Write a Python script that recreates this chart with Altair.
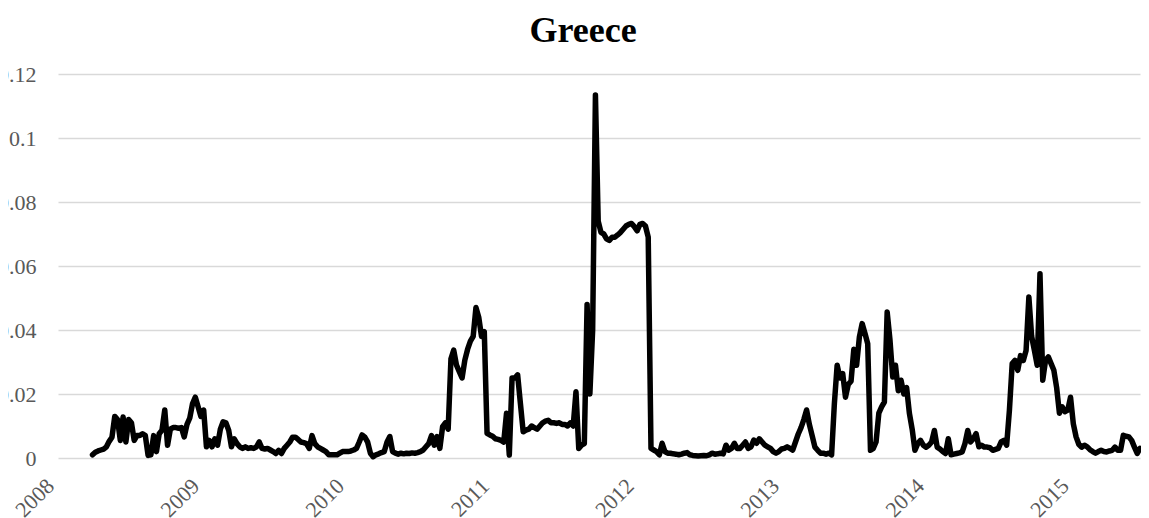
import altair as alt
import pandas as pd

title_text = "Greece"
start_date = "2008-03-28"
year_ticks = [2008, 2009, 2010, 2011, 2012, 2013, 2014, 2015]
y_ticks = [0, 0.02, 0.04, 0.06, 0.08, 0.1, 0.12]

values = [
    0.001, 0.0018, 0.0022, 0.0025, 0.0028, 0.0035, 0.0052, 0.0065, 0.013, 0.012,
    0.0055, 0.0128, 0.005, 0.012, 0.011, 0.0055, 0.007, 0.007, 0.0076, 0.007,
    0.0008, 0.001, 0.007, 0.002, 0.0076, 0.0087, 0.015, 0.004, 0.009, 0.0095,
    0.0095, 0.0093, 0.0095, 0.0066, 0.0105, 0.0125, 0.017, 0.019, 0.016, 0.013,
    0.015, 0.0035, 0.0055, 0.0035, 0.006, 0.004, 0.009, 0.0113, 0.011, 0.0087,
    0.0035, 0.006, 0.0045, 0.0035, 0.003, 0.0035, 0.003, 0.0032, 0.003, 0.0035,
    0.005, 0.003, 0.0028, 0.003, 0.0025, 0.002, 0.0014, 0.0024, 0.0014, 0.003,
    0.004, 0.005, 0.0065, 0.0065, 0.0058, 0.005, 0.0048, 0.0045, 0.003, 0.007,
    0.0045, 0.0035, 0.003, 0.0025, 0.002, 0.001, 0.001, 0.001, 0.001, 0.0015,
    0.002, 0.002, 0.002, 0.0022, 0.0025, 0.003, 0.005, 0.0072, 0.0065, 0.005,
    0.0015, 0.0004, 0.001, 0.0013, 0.0017, 0.002, 0.005, 0.0067, 0.002, 0.0015,
    0.0012, 0.0015, 0.0013, 0.0015, 0.0014, 0.0016, 0.0015, 0.0017, 0.002, 0.0025,
    0.0035, 0.0045, 0.007, 0.004, 0.0067, 0.003, 0.0098, 0.011, 0.009, 0.031,
    0.0337, 0.029, 0.027, 0.025, 0.0306, 0.034, 0.0365, 0.038, 0.047, 0.044,
    0.038, 0.0395, 0.0077, 0.0072, 0.0068, 0.006, 0.0058, 0.0055, 0.005, 0.014,
    0.0009, 0.025, 0.025, 0.026, 0.017, 0.0082, 0.0087, 0.009, 0.010, 0.0095,
    0.009, 0.010, 0.011, 0.0115, 0.0118, 0.011, 0.011, 0.0108, 0.011, 0.0105,
    0.0105, 0.010, 0.011, 0.010, 0.0207, 0.003, 0.004, 0.0045, 0.048, 0.02,
    0.04, 0.1134, 0.074, 0.0705, 0.070, 0.0685, 0.068, 0.069, 0.069, 0.0697,
    0.0705, 0.0715, 0.0725, 0.073, 0.0733, 0.0723, 0.071, 0.073, 0.0733, 0.0725,
    0.069, 0.003, 0.0025, 0.002, 0.001, 0.0046, 0.002, 0.0015, 0.0015, 0.0013,
    0.0012, 0.001, 0.0012, 0.0015, 0.0017, 0.001, 0.0008, 0.0007, 0.0006, 0.0007,
    0.0008, 0.0007, 0.001, 0.0015, 0.0012, 0.0013, 0.0015, 0.0013, 0.004, 0.0025,
    0.003, 0.0046, 0.003, 0.003, 0.004, 0.005, 0.003, 0.0035, 0.0056, 0.0046,
    0.006, 0.005, 0.004, 0.0035, 0.003, 0.002, 0.0015, 0.002, 0.0028, 0.003,
    0.0035, 0.003, 0.0025, 0.005, 0.0075, 0.0095, 0.012, 0.015, 0.0105, 0.007,
    0.0034, 0.0024, 0.0015, 0.0015, 0.0012, 0.0015, 0.001, 0.017, 0.029, 0.025,
    0.0264, 0.019, 0.023, 0.024, 0.034, 0.029, 0.0378, 0.042, 0.039, 0.0357,
    0.0024, 0.003, 0.005, 0.014, 0.016, 0.0175, 0.0456, 0.037, 0.0253, 0.029,
    0.021, 0.0243, 0.020, 0.022, 0.014, 0.009, 0.0024, 0.0045, 0.0055, 0.004,
    0.0034, 0.004, 0.005, 0.0086, 0.0034, 0.0028, 0.002, 0.0014, 0.006, 0.001,
    0.0012, 0.0014, 0.0016, 0.0019, 0.0045, 0.0086, 0.005, 0.006, 0.0076, 0.0035,
    0.004, 0.0034, 0.0034, 0.0032, 0.0024, 0.0027, 0.003, 0.005, 0.0055, 0.004,
    0.0149, 0.0295, 0.0305, 0.0274, 0.032, 0.0305, 0.0336, 0.0503, 0.038, 0.0336,
    0.029, 0.0576, 0.0243, 0.0305, 0.0316, 0.0295, 0.0274, 0.022, 0.014, 0.016,
    0.0145, 0.015, 0.019, 0.0107, 0.0066, 0.0042, 0.0034, 0.004, 0.0035, 0.0026,
    0.002, 0.0015, 0.002, 0.0024, 0.002, 0.0019, 0.0022, 0.0024, 0.0034, 0.0024,
    0.0024, 0.0071, 0.0068, 0.0066, 0.0055, 0.0034, 0.0014, 0.003,
]

dates = pd.date_range(start_date, periods=len(values), freq="7D")
df = pd.DataFrame({"date": dates.strftime("%Y-%m-%d"), "value": values})

FONT = "Liberation Serif"
LABEL_COLOR = "#595959"

x_domain = [
    alt.DateTime(year=2008, month=1, date=1, utc=True),
    alt.DateTime(year=int(dates[-1].year), month=int(dates[-1].month), date=int(dates[-1].day), utc=True),
]

chart = (
    alt.Chart(df)
    .mark_line(color="black", strokeWidth=5.5, strokeJoin="round", strokeCap="round")
    .encode(
        x=alt.X(
            "date:T",
            scale=alt.Scale(type="utc", domain=x_domain),
            axis=alt.Axis(
                values=[alt.DateTime(year=y, month=1, date=1, utc=True) for y in year_ticks],
                format="%Y",
                labelAngle=315,
                labelAlign="right",
                labelBaseline="middle",
                labelPadding=24,
                labelOffset=-8,
                labelFont=FONT,
                labelFontSize=22,
                labelColor=LABEL_COLOR,
                labelOverlap=False,
                grid=False,
                domain=False,
                ticks=False,
                title=None,
            ),
        ),
        y=alt.Y(
            "value:Q",
            scale=alt.Scale(domain=[0, 0.12], nice=False),
            axis=alt.Axis(
                values=y_ticks,
                format=".2~f",
                grid=True,
                gridColor="#d9d9d9",
                gridWidth=1.3,
                domain=False,
                ticks=False,
                labelPadding=22,
                labelFont=FONT,
                labelFontSize=22,
                labelColor=LABEL_COLOR,
                title=None,
            ),
        ),
    )
    .properties(
        width=1082,
        height=384,
        autosize="none",
        padding={"left": 50, "top": 66, "right": 1, "bottom": 60},
        title=alt.TitleParams(
            title_text,
            font=FONT,
            fontSize=36,
            fontWeight="bold",
            color="black",
            anchor="middle",
            frame="group",
            offset=13,
            dx=-16,
        ),
    )
    .configure_view(stroke=None)
)

chart.save("out.html", embed_options={"renderer": "svg", "actions": False})
